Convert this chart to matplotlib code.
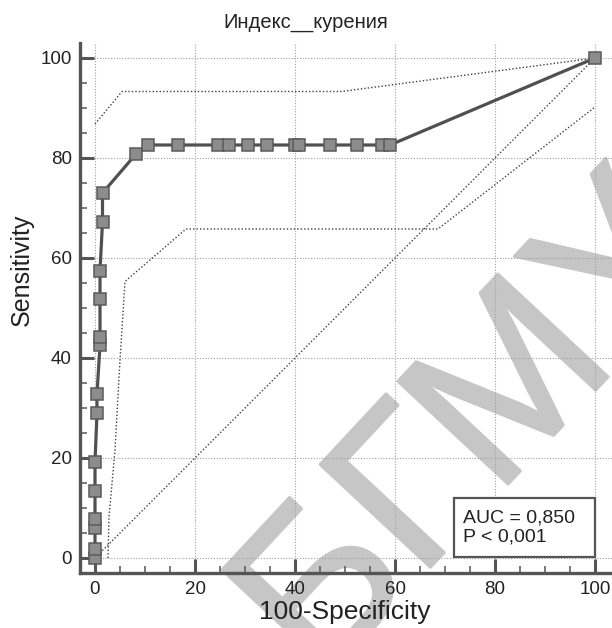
import matplotlib
matplotlib.use("Agg")
import matplotlib.pyplot as plt
import matplotlib.patheffects as pe
from matplotlib.patches import Rectangle

plt.rcParams['font.family'] = ['Liberation Sans', 'DejaVu Sans']

# ROC curve points (100-Specificity, Sensitivity)
roc_x = [0, 0, 0, 0, 0, 0, 0.4, 0.4, 1, 1, 1, 1, 1.5, 1.5, 8.2, 10.6, 16.6,
         24.6, 26.8, 30.6, 34.4, 40, 40.8, 47, 52.4, 57.4, 59, 100]
roc_y = [0, 1.9, 6.0, 7.8, 13.4, 19.2, 29, 32.8, 42.6, 44.2, 51.8, 57.4, 67.2,
         73, 80.8, 82.6, 82.6, 82.6, 82.6, 82.6, 82.6, 82.6, 82.6, 82.6, 82.6,
         82.6, 82.6, 100]

# 95% confidence bounds
upper_x = [0, 5.4, 49.3, 100]
upper_y = [86.8, 93.3, 93.3, 100]
lower_x = [2.6, 2.8, 4, 5, 6, 18.2, 68.6, 100]
lower_y = [0, 8.2, 21.6, 39.6, 55.3, 65.8, 65.8, 90.2]

diag = [0, 100]
ticks = [0, 20, 40, 60, 80, 100]

title = "Индекс__курения"
auc_text = "AUC = 0,850\nP < 0,001"
watermark = "БГМУ"

axcol = '#555555'
wmcol = '#c6c6c6'

fig = plt.figure(figsize=(6.12, 6.28), dpi=100)
ax = fig.add_axes([80 / 612, 55 / 628, 532 / 612, 530 / 628])
ax.set_xlim(-3, 103.4)
ax.set_ylim(-3, 103)
ax.set_axisbelow(True)

for s in ['top', 'right']:
    ax.spines[s].set_visible(False)
for s in ['left', 'bottom']:
    ax.spines[s].set_linewidth(2.4)
    ax.spines[s].set_color(axcol)

ax.set_xticks(ticks)
ax.set_yticks(ticks)
ax.set_xticks(range(5, 100, 5), minor=True)
ax.set_yticks(range(5, 100, 5), minor=True)
ax.tick_params(which='major', direction='in', length=10, width=2.2, color=axcol,
               labelsize=13.5, labelcolor='#222222', pad=6)
ax.tick_params(which='minor', direction='in', length=5, width=1.1, color=axcol)
ax.grid(True, which='major', color='#a0a0a0', linestyle=(0, (1, 1.5)), linewidth=0.8)

# watermark (baseline starts below the x axis, runs up to the right)
ax.text(45, -25.6, watermark, fontsize=158, color=wmcol,
        rotation=47, rotation_mode='anchor', ha='left', va='baseline',
        clip_on=False, zorder=0.1,
        path_effects=[pe.withStroke(linewidth=2, foreground=wmcol)])

ax.plot(diag, diag, color='#404040', linestyle=(0, (1, 1.5)), linewidth=1, zorder=3)
ax.plot(upper_x, upper_y, color='#404040', linestyle=(0, (1, 1.5)), linewidth=1, zorder=3)
ax.plot(lower_x, lower_y, color='#404040', linestyle=(0, (1, 1.5)), linewidth=1, zorder=3)

ax.plot(roc_x, roc_y, color='#505050', linewidth=2.3, marker='s', markersize=9.3,
        markerfacecolor='#8c8c8c', markeredgecolor='#5a5a5a', markeredgewidth=1.1,
        zorder=4)

ax.add_patch(Rectangle((71.8, 0.2), 28.2, 11.8, facecolor='white', edgecolor=axcol,
                       linewidth=1.6, zorder=5))
ax.text(73.6, 6.1, auc_text, fontsize=14, color='#222222', ha='left', va='center',
        linespacing=1.2, zorder=6)

ax.set_xlabel("100-Specificity", fontsize=19, color='#222222')
ax.xaxis.set_label_coords((345 - 80) / 532, -(612 - 573) / 530)
ax.xaxis.label.set_va('center')
ax.set_ylabel("Sensitivity", fontsize=18, color='#222222')
ax.yaxis.set_label_coords(-(80 - 22) / 532, (573 - 270) / 530)
ax.yaxis.label.set_va('center')

fig.text(0.5, 1 - 22 / 628, title, fontsize=14.5, color='#222222',
         ha='center', va='center')

fig.savefig("out.png", dpi=100)
